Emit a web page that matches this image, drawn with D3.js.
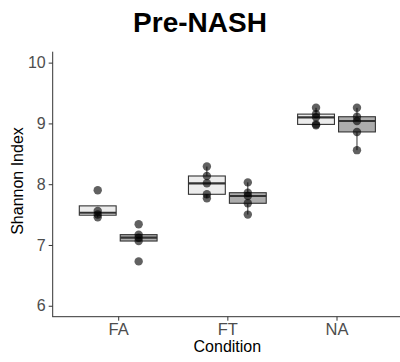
<!DOCTYPE html>
<html>
<head>
<meta charset="utf-8">
<script src="https://cdn.jsdelivr.net/npm/d3@7"></script>
<style>
  body { margin: 0; background: #fff; }
  svg { display: block; font-family: "Liberation Sans", Arial, sans-serif; }
</style>
</head>
<body>
<div id="chart-area"></div>
<script>
// Shannon index per condition, two groups each
var conditions = ["FA", "FT", "NA"];
var groups = ["g1", "g2"];
var valuesG1 = [
    [7.455, 7.502, 7.558, 7.90],
    [7.77, 7.834, 8.015, 8.135, 8.29],
    [8.97, 8.984, 9.10, 9.153, 9.257]
];
var valuesG2 = [
    [6.73, 7.065, 7.12, 7.17, 7.34],
    [7.50, 7.686, 7.806, 7.86, 8.03],
    [8.56, 8.86, 9.04, 9.11, 9.257]
];
var yTicks = [6, 7, 8, 9, 10];

var width = 400, height = 362;
var panel = {left: 52.7, right: 402, top: 51.7, bottom: 316.7};
var fills = {g1: "#ececec", g2: "#acacac"};

var svg = d3.select("#chart-area").append("svg")
    .attr("width", width)
    .attr("height", height);

var x = d3.scalePoint()
    .domain(conditions)
    .range([panel.left, panel.right])
    .padding(0.6);
var step = x.step();
var offset = d3.scaleOrdinal().domain(groups).range([-0.1875 * step, 0.1875 * step]);
var boxW = 0.3375 * step;

var y = d3.scaleLinear()
    .domain([5.82, 10.18])
    .range([panel.bottom, panel.top]);

// build box stats
var boxes = [];
conditions.forEach(function(c, i) {
    [valuesG1[i], valuesG2[i]].forEach(function(vals, j) {
        var s = vals.slice().sort(d3.ascending);
        var q1 = d3.quantile(s, 0.25), med = d3.quantile(s, 0.5), q3 = d3.quantile(s, 0.75);
        var iqr = q3 - q1;
        var inside = s.filter(function(v) { return v >= q1 - 1.5 * iqr && v <= q3 + 1.5 * iqr; });
        boxes.push({cond: c, group: groups[j], vals: s, q1: q1, med: med, q3: q3,
            lo: d3.min(inside), hi: d3.max(inside)});
    });
});

// axes
var yAxis = svg.append("g")
    .attr("transform", "translate(" + panel.left + ",0)")
    .call(d3.axisLeft(y).tickValues(yTicks).tickFormat(d3.format("d"))
        .tickSize(4).tickPadding(3).tickSizeOuter(0));
yAxis.select(".domain").attr("stroke", "#333").attr("d", "M0," + panel.top + "V" + panel.bottom);
yAxis.selectAll(".tick line").attr("stroke", "#333");
yAxis.selectAll("text").attr("fill", "#4d4d4d").attr("font-size", "16px")
    .attr("font-family", "Liberation Sans, Arial, sans-serif");

var xAxis = svg.append("g")
    .attr("transform", "translate(0," + panel.bottom + ")")
    .call(d3.axisBottom(x).tickSize(4).tickPadding(3).tickSizeOuter(0));
xAxis.select(".domain").attr("stroke", "#333").attr("d", "M" + (panel.left - 0.5) + ",0H" + panel.right);
xAxis.selectAll(".tick line").attr("stroke", "#333");
xAxis.selectAll("text").attr("fill", "#4d4d4d").attr("font-size", "16.5px")
    .attr("font-family", "Liberation Sans, Arial, sans-serif");

// boxes
var bg = svg.append("g");
boxes.forEach(function(b) {
    var cx = x(b.cond) + offset(b.group);
    bg.append("line")
        .attr("x1", cx).attr("x2", cx)
        .attr("y1", y(b.q3)).attr("y2", y(b.hi))
        .attr("stroke", "#333").attr("stroke-width", 1);
    bg.append("line")
        .attr("x1", cx).attr("x2", cx)
        .attr("y1", y(b.q1)).attr("y2", y(b.lo))
        .attr("stroke", "#333").attr("stroke-width", 1);
    bg.append("rect")
        .attr("x", cx - boxW / 2)
        .attr("y", y(b.q3))
        .attr("width", boxW)
        .attr("height", y(b.q1) - y(b.q3))
        .attr("fill", fills[b.group])
        .attr("stroke", "#333")
        .attr("stroke-width", 1.1);
    bg.append("line")
        .attr("x1", cx - boxW / 2).attr("x2", cx + boxW / 2)
        .attr("y1", y(b.med)).attr("y2", y(b.med))
        .attr("stroke", "#333").attr("stroke-width", 2.2);
});

// points
var pts = [];
boxes.forEach(function(b) {
    b.vals.forEach(function(v) { pts.push({cond: b.cond, group: b.group, v: v}); });
});
svg.append("g").selectAll("circle")
    .data(pts)
    .enter().append("circle")
    .attr("cx", function(d) { return x(d.cond) + offset(d.group); })
    .attr("cy", function(d) { return y(d.v); })
    .attr("r", 4.2)
    .attr("fill", "#000")
    .attr("fill-opacity", 0.62);

// titles
svg.append("text")
    .attr("x", 200)
    .attr("y", 32)
    .attr("text-anchor", "middle")
    .attr("font-size", "28px")
    .attr("font-weight", "bold")
    .attr("fill", "#000")
    .text("Pre-NASH");

svg.append("text")
    .attr("x", (panel.left + panel.right) / 2)
    .attr("y", 352)
    .attr("text-anchor", "middle")
    .attr("font-size", "16px")
    .attr("fill", "#000")
    .text("Condition");

svg.append("text")
    .attr("transform", "rotate(-90)")
    .attr("x", -181)
    .attr("y", 23)
    .attr("text-anchor", "middle")
    .attr("font-size", "16px")
    .attr("fill", "#000")
    .text("Shannon Index");
</script>
</body>
</html>
